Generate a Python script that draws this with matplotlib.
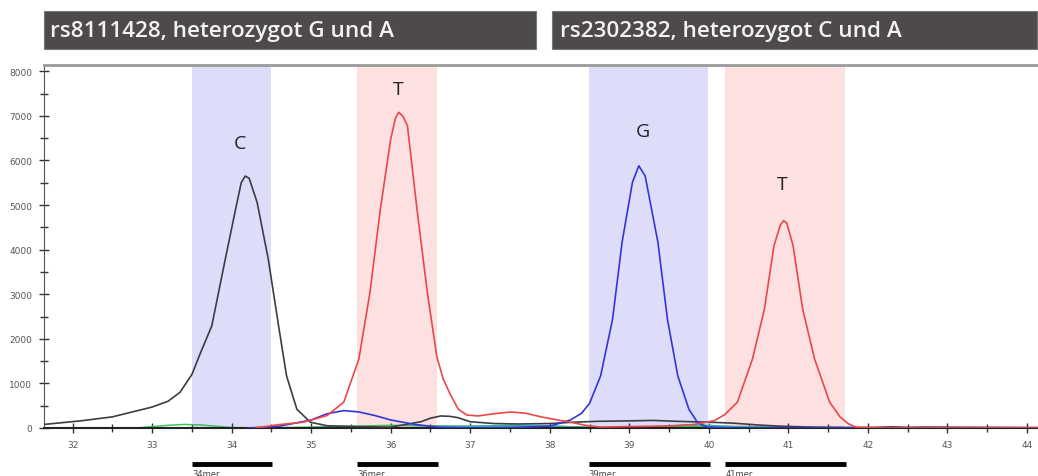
import matplotlib
matplotlib.use("Agg")
import matplotlib.pyplot as plt
import matplotlib.transforms as mtransforms
from matplotlib.patches import Rectangle

# --- data ---
black_x = [31.64, 32.1, 32.5, 33.0, 33.2, 33.35, 33.5, 33.6, 33.75, 33.92, 34.05, 34.12, 34.17,
           34.22, 34.32, 34.46, 34.59, 34.69, 34.82, 34.99, 35.2, 35.6, 36.0, 36.38, 36.5, 36.63,
           36.75, 36.85, 37.0, 37.3, 37.6, 38.0, 38.3, 38.6, 39.0, 39.3, 39.6, 40.0, 40.3, 40.6,
           40.9, 41.3, 42.0, 42.3, 42.5, 42.7, 44.14]
black_y = [80, 160, 250, 470, 600, 800, 1200, 1650, 2290, 3790, 4910, 5500, 5650,
           5600, 5060, 3790, 2290, 1170, 420, 130, 50, 30, 20, 140, 220, 270,
           260, 230, 140, 100, 90, 100, 130, 150, 160, 170, 150, 130, 110, 70,
           40, 20, 10, 25, 15, 20, 10]

red_x = [34.3, 34.57, 34.9, 35.2, 35.41, 35.6, 35.74, 35.87, 36.0, 36.06, 36.1, 36.15, 36.21,
         36.33, 36.46, 36.58, 36.66, 36.75, 36.85, 36.96, 37.1, 37.3, 37.51, 37.7, 37.89, 38.1,
         38.26, 38.45, 38.64, 38.9, 39.3, 39.6, 39.82, 40.07, 40.2, 40.36, 40.55, 40.7, 40.82,
         40.9, 40.94, 40.98, 41.06, 41.18, 41.33, 41.52, 41.65, 41.75, 41.85, 42.2, 44.14]
red_y = [0, 70, 130, 280, 580, 1550, 3050, 4910, 6480, 6950, 7080, 7000, 6780,
         4910, 3050, 1600, 1100, 750, 420, 290, 270, 320, 360, 330, 250, 180,
         130, 60, 20, 30, 40, 50, 80, 165, 300, 580, 1550, 2670, 4090,
         4550, 4650, 4600, 4090, 2670, 1550, 580, 250, 100, 20, 0, 0]

blue_x = [34.2, 34.6, 35.0, 35.2, 35.41, 35.6, 35.8, 36.0, 36.3, 36.6, 37.0, 37.5, 38.0, 38.26,
          38.4, 38.5, 38.64, 38.79, 38.91, 39.04, 39.12, 39.2, 39.36, 39.48, 39.61, 39.75,
          39.86, 39.98, 40.3, 44.14]
blue_y = [0, 40, 180, 320, 390, 360, 280, 180, 80, 20, 0, 10, 40, 180,
          330, 550, 1170, 2440, 4170, 5510, 5880, 5650, 4170, 2440, 1170, 420,
          120, 20, 0, 0]

green_x = [31.64, 32.8, 33.0, 33.2, 33.4, 33.6, 33.8, 34.0, 34.3, 35.0, 35.5, 36.0, 36.5, 37.0,
           37.5, 38.0, 38.5, 39.0, 39.5, 40.0, 40.5, 41.0, 41.5, 42.0, 44.14]
green_y = [0, 0, 30, 60, 80, 70, 40, 10, 0, 20, 40, 60, 50, 40,
           30, 40, 20, 10, 30, 40, 30, 20, 10, 0, 0]

teal_x = [35.0, 36.0, 36.8, 37.2, 37.6, 38.0, 38.3, 38.7, 39.3, 39.7, 40.0, 40.4, 41.0, 44.14]
teal_y = [0, 0, 30, 50, 60, 50, 20, 0, 30, 70, 60, 20, 0, 0]

# allele windows
win_start = [33.5, 35.58, 38.49, 40.21]
win_end = [34.49, 36.58, 39.99, 41.71]
win_color = ["#dddcf9", "#fde0e0", "#dddcf9", "#fde0e0"]
win_names = ["34mer", "36mer", "39mer", "41mer"]

peak_labels = ["C", "T", "G", "T"]
peak_lx = [34.10, 36.10, 39.17, 40.93]
peak_ly = [6400, 7600, 6670, 5470]

titles = ["rs8111428, heterozygot G und A", "rs2302382, heterozygot C und A"]

fig = plt.figure(figsize=(10.38, 4.77), dpi=100)
ax = fig.add_axes([44 / 1038, 1 - 429 / 477, 1 - 44 / 1038, (429 - 66) / 477])

for s, e, c in zip(win_start, win_end, win_color):
    ax.axvspan(s, e, color=c, lw=0, zorder=0)

ax.plot(green_x, green_y, color="#3cc060", lw=1.1, zorder=2)
ax.plot(teal_x, teal_y, color="#2fb0b0", lw=1.1, zorder=2)
ax.plot(black_x, black_y, color="#3c3c44", lw=1.2, zorder=3)
ax.plot(blue_x, blue_y, color="#3434d8", lw=1.2, zorder=3)
ax.plot(red_x, red_y, color="#e84848", lw=1.2, zorder=3)

for t, x, y in zip(peak_labels, peak_lx, peak_ly):
    ax.text(x, y, t, ha="center", va="center", fontsize=14, family="Open Sans", color="#222222")

ax.set_xticks(range(32, 45))
ax.set_xticks([v + 0.5 for v in range(32, 44)], minor=True)
ax.set_yticks(range(0, 8001, 1000))
ax.set_yticks(range(500, 8001, 1000), minor=True)
ax.set_xlim(31.64, 44.14)
ax.set_ylim(0, 8140)
ax.tick_params(which="major", direction="inout", length=7, width=1, color="#333333",
               labelsize=6.5, labelcolor="#555555", pad=5)
ax.tick_params(which="minor", direction="inout", length=6, width=1, color="#333333")

ax.spines["right"].set_visible(False)
ax.spines["top"].set_color("#9a9a9a")
ax.spines["top"].set_linewidth(2)
ax.spines["left"].set_color("#555555")
ax.spines["bottom"].set_color("#222222")
ax.spines["bottom"].set_linewidth(1.5)

# fragment size bars below the axis
trans = mtransforms.blended_transform_factory(ax.transData, ax.transAxes)
for s, e, n in zip(win_start, win_end, win_names):
    ax.plot([s, e + 0.02], [-0.099, -0.099], color="black", lw=3.5, transform=trans,
            clip_on=False, solid_capstyle="butt")
    ax.text(s, -0.125, n, transform=trans, fontsize=6, color="#444444", ha="left", va="center")
ax.set_xlim(31.64, 44.14)

# title boxes
boxes = [(44, 536, 50), (552, 1037, 560)]
for (x0, x1, tx), title in zip(boxes, titles):
    fig.patches.append(Rectangle((x0 / 1038, 1 - 50 / 477), (x1 - x0) / 1038, 38 / 477,
                                 transform=fig.transFigure, facecolor="#4e4a4a",
                                 edgecolor="#777777", lw=0.8))
    fig.text(tx / 1038, 1 - 32 / 477, title, fontsize=16.2, family="Open Sans",
             weight="semibold", color="#f2f2f2", ha="left", va="center")

fig.savefig("out.png", dpi=100)
